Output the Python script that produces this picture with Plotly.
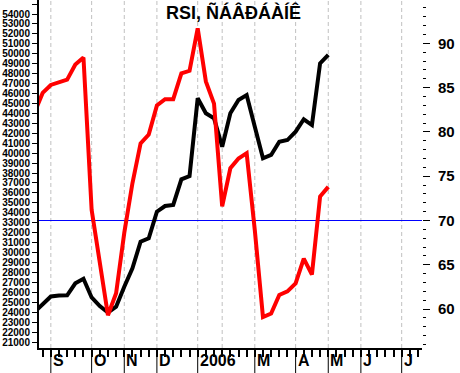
import plotly.graph_objects as go

# Weekly calendar (one point per trading week; Jan 6 holiday week absent)
weeks = ["2005-08-19", "2005-08-26",
         "2005-09-02", "2005-09-09", "2005-09-16", "2005-09-23", "2005-09-30",
         "2005-10-07", "2005-10-14", "2005-10-21", "2005-10-28",
         "2005-11-04", "2005-11-11", "2005-11-18", "2005-11-25",
         "2005-12-02", "2005-12-09", "2005-12-16", "2005-12-23", "2005-12-30",
         "2006-01-13", "2006-01-20", "2006-01-27",
         "2006-02-03", "2006-02-10", "2006-02-17", "2006-02-24",
         "2006-03-03", "2006-03-10", "2006-03-17", "2006-03-24", "2006-03-31",
         "2006-04-07", "2006-04-14", "2006-04-21", "2006-04-28",
         "2006-05-05", "2006-05-12", "2006-05-19", "2006-05-26",
         "2006-06-02", "2006-06-09", "2006-06-16", "2006-06-23", "2006-06-30",
         "2006-07-07", "2006-07-14", "2006-07-21"]

price = [24020, 24800, 25580, 25680, 25700, 26900, 27360, 25480, 24620, 23970,
         24550, 26560, 28420, 31090, 31440, 34110, 34680, 34790, 37370, 37700,
         45520, 44010, 43510, 40650, 44010, 45350, 45850, 42660, 39480, 39820,
         41150, 41320, 42160, 43410, 42830, 49040, 49880]

rsi = [82.2, 84.4, 85.3, 85.6, 85.9, 87.6, 88.4, 71.2, 65.3, 59.3,
       61.8, 68.6, 74.2, 78.7, 79.7, 83.0, 83.7, 83.7, 86.6, 86.9,
       91.7, 85.7, 83.2, 71.6, 75.9, 77.0, 77.6, 68.9, 59.1, 59.5,
       61.6, 62.0, 62.9, 65.7, 63.9, 72.7, 73.8]

rsi_level = 70
title_text = "RSI, ÑÁÂÐÁÀÍÊ"
month_names = {9: "S", 10: "O", 11: "N", 12: "D", 1: "2006", 2: "", 3: "M",
               4: "A", 5: "M", 6: "J", 7: "J"}
left_ticks = list(range(21000, 55001, 1000))
right_ticks = list(range(60, 91, 5))

FONT = "Liberation Sans, Arial, sans-serif"

x_idx = list(range(len(weeks)))
data_x = x_idx[:len(price)]

# month start indices
month_starts = []
for i in range(1, len(weeks)):
    if weeks[i][5:7] != weeks[i - 1][5:7]:
        month_starts.append((i, int(weeks[i][5:7])))

fig = go.Figure()
fig.add_trace(go.Scatter(x=data_x, y=price, mode="lines",
                         line=dict(color="black", width=4), yaxis="y",
                         hoverinfo="skip"))
fig.add_trace(go.Scatter(x=data_x, y=rsi, mode="lines",
                         line=dict(color="#ff0000", width=4), yaxis="y2",
                         hoverinfo="skip"))

shapes = []
annotations = []
for idx, m in month_starts:
    shapes.append(dict(type="line", xref="x", yref="paper", x0=idx, x1=idx,
                       y0=0, y1=1, layer="below",
                       line=dict(color="#c0c0c0", width=1, dash="4px,3px")))
    lab = month_names.get(m, "")
    if lab:
        shapes.append(dict(type="line", xref="x", yref="paper", x0=idx, x1=idx,
                           y0=0, y1=-0.075, line=dict(color="black", width=1)))
        annotations.append(dict(x=idx, y=-0.036, xref="x", yref="paper",
                                text=lab, showarrow=False, xanchor="left",
                                yanchor="middle", xshift=0,
                                font=dict(family=FONT, size=16, color="black",
                                          weight="bold")))

shapes.append(dict(type="line", xref="paper", yref="y2", x0=0, x1=1,
                   y0=rsi_level, y1=rsi_level, layer="below",
                   line=dict(color="#0000ff", width=1)))

annotations.append(dict(x=0.508, y=0.965, xref="paper", yref="paper",
                        text=title_text, showarrow=False, xanchor="center",
                        yanchor="middle",
                        font=dict(family=FONT, size=18, color="black",
                                  weight="bold")))

fig.update_layout(
    width=460, height=373,
    margin=dict(l=39, r=38, t=0, b=25, pad=0, autoexpand=False),
    paper_bgcolor="white", plot_bgcolor="white",
    showlegend=False, hovermode=False,
    shapes=shapes, annotations=annotations,
    xaxis=dict(range=[0.55, 47.49], tickmode="array", tickvals=x_idx[1:],
               showticklabels=False, ticks="outside", ticklen=7, tickwidth=2,
               tickcolor="black", showgrid=False, zeroline=False,
               showline=True, linecolor="black", linewidth=2,
               automargin=False),
    yaxis=dict(range=[20398, 55408], tickmode="array", tickvals=left_ticks,
               ticktext=[str(v) if v < 55000 else "" for v in left_ticks],
               ticks="outside", ticklen=5, tickwidth=1, tickcolor="black",
               showgrid=False, zeroline=False, showline=True,
               linecolor="black", linewidth=2, automargin=False,
               tickfont=dict(family=FONT, size=10, color="black",
                             weight="bold")),
    yaxis2=dict(range=[55.61, 94.89], overlaying="y", side="right",
                tickmode="array", tickvals=right_ticks,
                ticks="outside", ticklen=7, tickwidth=1, tickcolor="black",
                minor=dict(dtick=1, tick0=0, ticks="outside", ticklen=3,
                           tickwidth=1, tickcolor="black", showgrid=False),
                showgrid=False, zeroline=False, showline=False,
                ticklabelstandoff=5, automargin=False,
                tickfont=dict(family=FONT, size=15, color="black",
                              weight="bold")),
)

fig.write_html("out.html",
               config={"displayModeBar": False, "staticPlot": True},
               post_script="document.body.style.margin='0';"
                           "document.body.style.overflow='hidden';")
